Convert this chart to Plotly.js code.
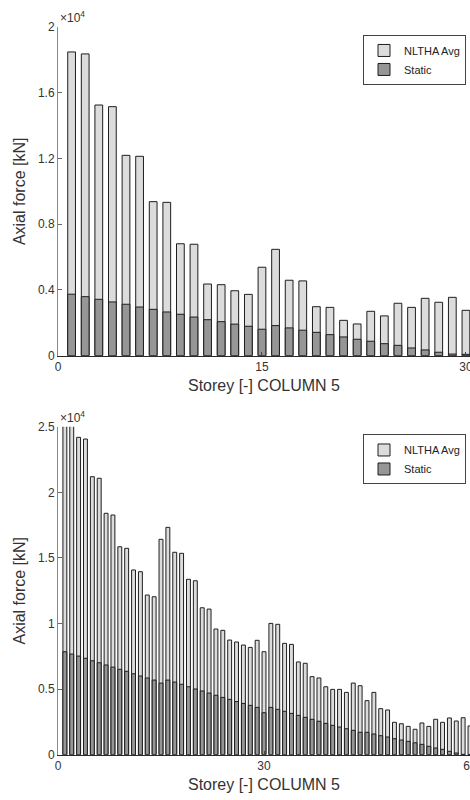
<!DOCTYPE html>
<html>
<head>
<meta charset="utf-8">
<script src="https://cdn.plot.ly/plotly-3.0.1.min.js"></script>
<style>html,body{margin:0;padding:0;background:#fff;}#chart{width:470px;height:800px;}</style>
</head>
<body>
<div id="chart"></div>
<script>
// ---- Data (kN) ----
const topStoreys = Array.from({length: 30}, (_, i) => i + 1);
const topNLTHA = [18480, 18360, 15250, 15150, 12190, 12130, 9370, 9330, 6810, 6780,
                  4360, 4320, 3950, 3730, 5380, 6470, 4590, 4550, 2980, 2940,
                  2150, 1930, 2700, 2420, 3190, 2940, 3490, 3250, 3550, 2760];
const topStatic = [3740, 3590, 3430, 3270, 3130, 2960, 2820, 2660, 2520, 2350,
                   2190, 2070, 1920, 1790, 1610, 1830, 1690, 1550, 1420, 1280,
                   1140, 1000, 880, 730, 630, 470, 350, 210, 100, 80];

const botStoreys = Array.from({length: 60}, (_, i) => i + 1);
const botNLTHA = [25300, 25100, 24190, 24060, 21190, 21070, 18400, 18270, 15850, 15730,
                  14080, 13950, 12170, 12040, 16420, 17330, 15430, 15350, 13370, 13260,
                  11200, 11100, 9580, 9480, 8740, 8590, 8360, 8180, 8720, 7850,
                  10010, 9940, 8490, 8410, 7070, 6970, 5950, 5850, 5180, 4980,
                  4980, 4750, 5460, 5260, 4120, 4750, 3510, 3410, 2470, 2360,
                  2160, 1940, 2420, 2160, 2700, 2470, 2800, 2570, 2820, 2190];
const botStatic = [7850, 7670, 7520, 7350, 7160, 7010, 6840, 6680, 6510, 6360,
                   6170, 6000, 5850, 5690, 5460, 5690, 5540, 5370, 5180, 5010,
                   4860, 4700, 4530, 4370, 4220, 4050, 3910, 3760, 3610, 3200,
                   3610, 3460, 3310, 3150, 3000, 2850, 2700, 2550, 2390, 2240,
                   2110, 1980, 1860, 1710, 1710, 1580, 1450, 1350, 1220, 1120,
                   1020, 910, 790, 640, 510, 410, 260, 130, 30, 20];

const topXTicks = [0, 15, 30];
const botXTicks = [0, 30, 60];
const topYTicks = [0, 4000, 8000, 12000, 16000, 20000];
const topYTickText = ['0', '0.4', '0.8', '1.2', '1.6', '2'];
const botYTicks = [0, 5000, 10000, 15000, 20000, 25000];
const botYTickText = ['0', '0.5', '1', '1.5', '2', '2.5'];

const seriesNames = ['NLTHA Avg', 'Static'];

// ---- Styling ----
const FONT = '"Liberation Sans", Arial, Helvetica, sans-serif';
const TXT = '#333';
const lightFill = '#dcdcdc';
const darkFill = '#969696';
const edge = '#1e1e1e';
const BW = 0.57;

function barTrace(x, y, name, fill, xa, ya, leg) {
  return {
    type: 'bar', x: x, y: y, name: name, width: BW,
    marker: {color: fill, line: {color: edge, width: 1}},
    xaxis: xa, yaxis: ya, legend: leg, hoverinfo: 'x+y'
  };
}

const traces = [
  barTrace(topStoreys, topNLTHA, seriesNames[0], lightFill, 'x', 'y', 'legend'),
  barTrace(topStoreys, topStatic, seriesNames[1], darkFill, 'x', 'y', 'legend'),
  barTrace(botStoreys, botNLTHA, seriesNames[0], lightFill, 'x2', 'y2', 'legend2'),
  barTrace(botStoreys, botStatic, seriesNames[1], darkFill, 'x2', 'y2', 'legend2')
];

function xAxis(range, ticks, anchor, domain) {
  return {
    domain: domain, range: range, anchor: anchor,
    tickmode: 'array', tickvals: ticks,
    ticks: 'inside', ticklen: 4, tickcolor: '#444', tickwidth: 1,
    ticklabeloverflow: 'allow',
    showline: true, linecolor: '#2a2a2a', linewidth: 1,
    showgrid: false, zeroline: false,
    tickfont: {family: FONT, size: 12, color: TXT},
    title: {text: 'Storey [-] COLUMN 5', font: {family: FONT, size: 16, color: TXT}, standoff: 6}
  };
}
function yAxis(range, ticks, text, anchor, domain) {
  return {
    domain: domain, range: range, anchor: anchor,
    tickmode: 'array', tickvals: ticks, ticktext: text,
    ticks: 'inside', ticklen: 4, tickcolor: '#666', tickwidth: 1,
    ticklabeloverflow: 'allow',
    showline: true, linecolor: '#8a8a8a', linewidth: 1,
    showgrid: false, zeroline: false,
    tickfont: {family: FONT, size: 12, color: TXT},
    title: {text: 'Axial force [kN]', font: {family: FONT, size: 16, color: TXT}, standoff: 8}
  };
}

const legendStyle = (y) => ({
  x: 0.9903, xanchor: 'right', y: y, yanchor: 'top',
  bgcolor: '#fff', bordercolor: '#444', borderwidth: 1,
  font: {family: FONT, size: 11, color: '#222'},
  tracegroupgap: 0, itemwidth: 30
});

const layout = {
  width: 470, height: 800,
  margin: {l: 58, r: 0, t: 0, b: 0},
  paper_bgcolor: '#fff', plot_bgcolor: '#fff',
  barmode: 'overlay',
  showlegend: true,
  xaxis: xAxis([0, 30.3], topXTicks, 'y', [0, 1]),
  yaxis: yAxis([0, 20000], topYTicks, topYTickText, 'x', [0.5554, 0.9663]),
  xaxis2: xAxis([0, 60], botXTicks, 'y2', [0, 1]),
  yaxis2: yAxis([0, 25000], botYTicks, botYTickText, 'x2', [0.0566, 0.4666]),
  legend: legendStyle(0.9563),
  legend2: legendStyle(0.4569),
  annotations: [
    {xref: 'paper', yref: 'paper', x: 0.0, y: 0.9663, xanchor: 'left', yanchor: 'bottom',
     text: '×10<sup>4</sup>', showarrow: false, font: {family: FONT, size: 12, color: TXT}},
    {xref: 'paper', yref: 'paper', x: 0.0, y: 0.4666, xanchor: 'left', yanchor: 'bottom',
     text: '×10<sup>4</sup>', showarrow: false, font: {family: FONT, size: 12, color: TXT}}
  ]
};

Plotly.newPlot('chart', traces, layout, {staticPlot: true, displayModeBar: false});
</script>
</body>
</html>
